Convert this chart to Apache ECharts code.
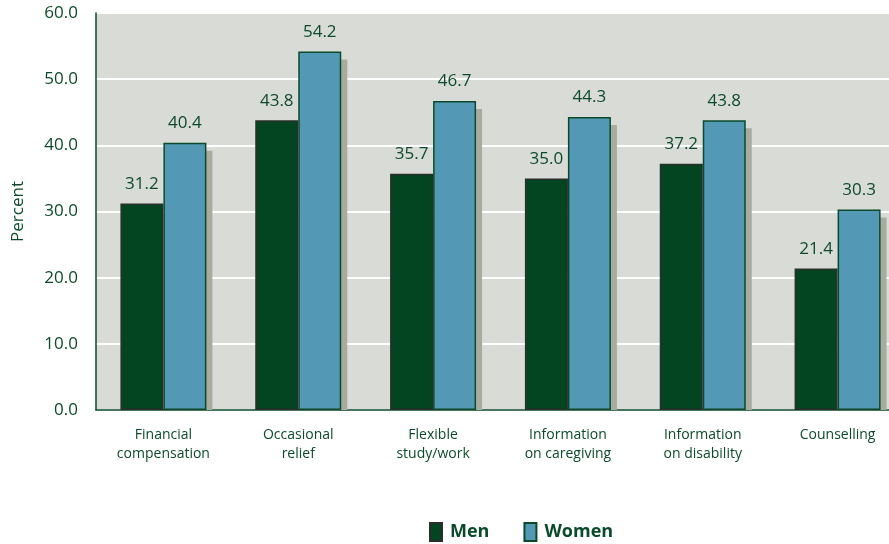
<!DOCTYPE html>
<html>
<head>
<meta charset="utf-8">
<script src="https://cdn.jsdelivr.net/npm/echarts@6/dist/echarts.min.js"></script>
<style>
  html, body { margin: 0; padding: 0; background: #fff; }
  #chart { width: 889px; height: 544px; }
</style>
</head>
<body>
<div id="chart"></div>
<script>
// data
const categories = ['Financial\ncompensation', 'Occasional\nrelief', 'Flexible\nstudy/work',
  'Information\non caregiving', 'Information\non disability', 'Counselling'];
const men = [31.2, 43.8, 35.7, 35.0, 37.2, 21.4];
const women = [40.4, 54.2, 46.7, 44.3, 43.8, 30.3];

const green = '#0b4a2a';
const font = '"Open Sans", "Noto Sans", sans-serif';
const barW = 43;

let myChart = echarts.init(document.getElementById('chart'));

function barSeries(name, data, color, border) {
  return {
    name: name,
    type: 'bar',
    data: data,
    barWidth: barW,
    barGap: '0%',
    z: 3,
    itemStyle: { color: color, borderColor: border, borderWidth: 1.5 },
    label: {
      show: true,
      position: 'top',
      distance: 11,
      color: green,
      fontSize: 17,
      fontFamily: font,
      formatter: p => p.value.toFixed(1)
    }
  };
}

// drop shadow behind each women bar (drawn through the axis scale)
function shadowItem(params, api) {
  const i = api.value(0);
  const base = api.coord([i, 0]);
  const top = api.coord([i, api.value(1)]);
  return {
    type: 'rect',
    shape: { x: base[0] + 6, y: top[1] + 8, width: barW, height: base[1] - top[1] - 8 },
    style: { fill: '#a7ac9e' }
  };
}

myChart.setOption({
  animation: false,
  grid: {
    left: 96, right: -16, top: 13, bottom: 134,
    outerBoundsMode: 'none',
    show: true,
    backgroundColor: '#d9dbd6',
    borderWidth: 0
  },
  legend: {
    bottom: -3,
    left: 424,
    itemWidth: 12,
    itemHeight: 18,
    itemGap: 34,
    icon: 'rect',
    textStyle: { color: green, fontSize: 18, fontWeight: 'bold', fontFamily: font, padding: [0, 0, 0, 3] },
    data: ['Men', 'Women']
  },
  xAxis: {
    type: 'category',
    data: categories,
    axisLine: { lineStyle: { color: green, width: 1.5 } },
    axisTick: { show: false },
    axisLabel: {
      color: green, fontSize: 14, fontFamily: font,
      lineHeight: 19, margin: 16
    }
  },
  yAxis: {
    type: 'value',
    min: 0, max: 60, interval: 10,
    name: 'Percent',
    nameLocation: 'middle',
    nameGap: 69,
    nameTextStyle: { color: green, fontSize: 17, fontFamily: font },
    axisLine: { show: true, lineStyle: { color: green, width: 1.5 } },
    axisTick: { show: false },
    splitLine: { lineStyle: { color: '#ffffff', width: 2 } },
    axisLabel: {
      color: green, fontSize: 17, fontFamily: font, margin: 18,
      formatter: v => v.toFixed(1)
    }
  },
  series: [
    {
      type: 'custom',
      z: 2,
      silent: true,
      renderItem: shadowItem,
      data: women.map((v, i) => [i, v])
    },
    barSeries('Men', men, '#034520', '#2a2f2a'),
    barSeries('Women', women, '#5398b4', '#0d4a2b')
  ]
});
</script>
</body>
</html>
